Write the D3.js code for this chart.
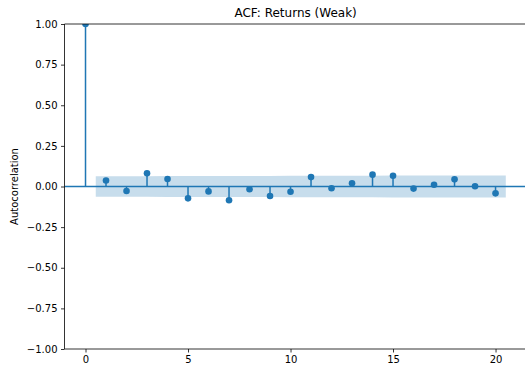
<!DOCTYPE html>
<html>
<head>
<meta charset="utf-8">
<script src="https://cdn.jsdelivr.net/npm/d3@7"></script>
<style>
  html, body { margin: 0; padding: 0; background: #fff; }
  svg { display: block; font-family: "DejaVu Sans", sans-serif; }
</style>
</head>
<body>
<svg id="chart" width="525" height="366"></svg>
<script>
// Autocorrelation of returns, lags 0..20
const lags = d3.range(0, 21);
const acfValues = [1.0, 0.037, -0.028, 0.081, 0.046, -0.073, -0.030, -0.085, -0.017, -0.058,
                   -0.032, 0.058, -0.011, 0.020, 0.073, 0.066, -0.013, 0.011, 0.044, 0.002, -0.042];
// 95% confidence band half-width for lags 1..20
const bandHalf = [0.063, 0.063, 0.063, 0.064, 0.064, 0.064, 0.065, 0.065, 0.065, 0.066,
                  0.066, 0.066, 0.066, 0.066, 0.067, 0.067, 0.067, 0.067, 0.067, 0.067];
const yTicks = [-1.0, -0.75, -0.5, -0.25, 0.0, 0.25, 0.5, 0.75, 1.0];
const xTicks = [0, 5, 10, 15, 20];
const titleText = "ACF: Returns (Weak)";
const yLabel = "Autocorrelation";

const blue = "#1f77b4";
const plotL = 64.5, plotR = 526.8, plotT = 24, plotB = 349;

const svg = d3.select("#chart");
const x = d3.scaleLinear().domain([-1.025, 21.525]).range([plotL, plotR]);
const y = d3.scaleLinear().domain([-1, 1]).range([plotB, plotT]);

svg.append("defs").append("clipPath").attr("id", "plotClip")
  .append("rect").attr("x", plotL).attr("y", plotT)
  .attr("width", plotR - plotL).attr("height", plotB - plotT);

const plot = svg.append("g").attr("clip-path", "url(#plotClip)");

// confidence band: first/last lag pushed out by half a step
const bandPts = lags.slice(1).map((l, i) => ({
  lag: i === 0 ? l - 0.5 : (i === bandHalf.length - 1 ? l + 0.5 : l),
  h: bandHalf[i]
}));
plot.append("path")
  .datum(bandPts)
  .attr("fill", blue).attr("fill-opacity", 0.25)
  .attr("d", d3.area().x(d => x(d.lag)).y0(d => y(-d.h)).y1(d => y(d.h)));

// zero line across the axes
plot.append("line")
  .attr("x1", plotL).attr("x2", plotR)
  .attr("y1", y(0)).attr("y2", y(0))
  .attr("stroke", blue).attr("stroke-width", 1.5);

const pts = lags.map((l, i) => ({ lag: l, v: acfValues[i] }));

plot.selectAll("line.stem").data(pts).join("line")
  .attr("class", "stem")
  .attr("x1", d => x(d.lag)).attr("x2", d => x(d.lag))
  .attr("y1", y(0)).attr("y2", d => y(d.v))
  .attr("stroke", blue).attr("stroke-width", 1.5);

plot.selectAll("circle.dot").data(pts).join("circle")
  .attr("class", "dot")
  .attr("cx", d => x(d.lag)).attr("cy", d => y(d.v))
  .attr("r", 3.3).attr("fill", blue);

// axes
const fmt = d3.format(".2f");
const yAxis = svg.append("g")
  .attr("transform", `translate(${plotL},0)`)
  .call(d3.axisLeft(y).tickValues(yTicks)
    .tickFormat(d => fmt(d).replace("-", "\u2212"))
    .tickSize(3.5).tickPadding(3.5));
const xAxis = svg.append("g")
  .attr("transform", `translate(0,${plotB})`)
  .call(d3.axisBottom(x).tickValues(xTicks).tickSize(3.5).tickPadding(3.5));

[yAxis, xAxis].forEach(g => {
  g.select(".domain").remove();
  g.selectAll(".tick line").attr("stroke", "#000").attr("stroke-width", 0.8);
  g.selectAll(".tick text").attr("fill", "#000").style("font-size", "10px")
    .style("font-family", "'DejaVu Sans', sans-serif");
});

// spines
const spine = svg.append("g").attr("fill", "none").attr("stroke", "#000").attr("stroke-width", 0.8);
spine.append("line").attr("x1", plotL).attr("x2", plotL).attr("y1", plotT).attr("y2", plotB);
spine.append("line").attr("x1", plotL).attr("x2", plotR).attr("y1", plotB).attr("y2", plotB);
spine.append("line").attr("x1", plotL).attr("x2", plotR).attr("y1", plotT).attr("y2", plotT);
spine.append("line").attr("x1", plotR).attr("x2", plotR).attr("y1", plotT).attr("y2", plotB);

// title and axis label
svg.append("text")
  .attr("x", (plotL + plotR) / 2).attr("y", 17)
  .attr("text-anchor", "middle")
  .style("font-size", "12px").attr("fill", "#000")
  .text(titleText);

svg.append("text")
  .attr("transform", `translate(18,${(plotT + plotB) / 2}) rotate(-90)`)
  .attr("text-anchor", "middle")
  .style("font-size", "10px").attr("fill", "#000")
  .text(yLabel);
</script>
</body>
</html>
